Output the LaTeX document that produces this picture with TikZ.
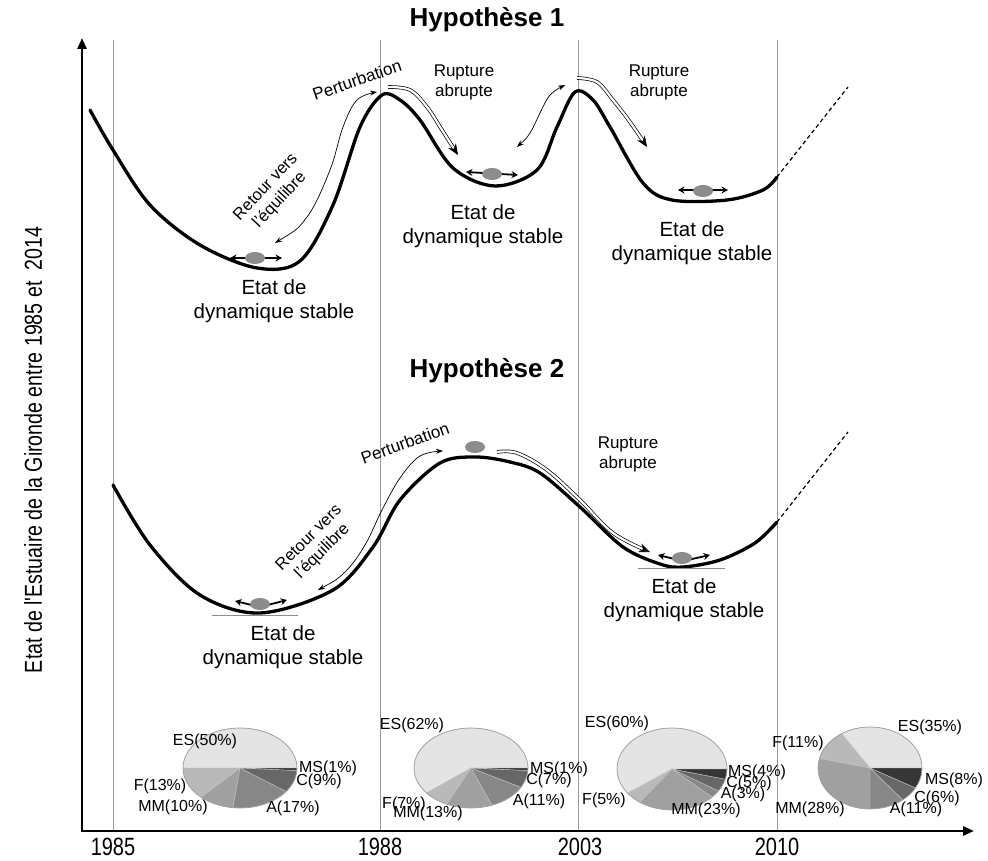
\documentclass[tikz,border=0pt]{standalone}
\usepackage{fontspec}
\setmainfont{Liberation Sans}
\newfontfamily\narrowfont[FakeStretch=0.8]{Liberation Sans}
\usetikzlibrary{arrows.meta}
\definecolor{cES}{HTML}{E4E4E4}
\definecolor{cF}{HTML}{B9B9B9}
\definecolor{cMM}{HTML}{A0A0A0}
\definecolor{cA}{HTML}{878787}
\definecolor{cC}{HTML}{676767}
\definecolor{cMS}{HTML}{363636}
\definecolor{ballc}{HTML}{8C8C8C}
\begin{document}
\begin{tikzpicture}[x=1pt,y=-1pt,
  curve/.style={line width=3.3pt,line cap=round,line join=round},
  vline/.style={line width=0.8pt,draw=black!40},
  axisline/.style={line width=2.8pt,-{Triangle[length=11pt,width=9pt]}},
  thinarrow/.style={line width=0.7pt,{Stealth[length=7pt,width=5pt]}-{Stealth[length=7pt,width=5pt]}},
  rupt/.style={line width=0.7pt,double=white,double distance=2.2pt,-{Stealth[length=11pt,width=9pt]}},
  ballarrow/.style={line width=1.8pt,line join=round,{Stealth[length=6.5pt,width=7pt]}-{Stealth[length=6.5pt,width=7pt]}},
  tangent/.style={line width=1pt,draw=black!45},
  lab/.style={font=\fontsize{20.5}{24}\selectfont,align=center,inner sep=0pt},
  small/.style={font=\fontsize{17}{20}\selectfont,align=center,inner sep=0pt},
  retour/.style={font=\fontsize{16.5}{19}\selectfont,align=center,inner sep=0pt},
  pielab/.style={font=\fontsize{16}{18}\selectfont,inner sep=0pt},
  year/.style={font=\narrowfont\fontsize{25}{28}\selectfont,inner sep=0pt},
  title/.style={font=\bfseries\fontsize{26}{30}\selectfont,inner sep=0pt},
  pieslice/.style={draw=white!78!black,line width=0.4pt},
]
\useasboundingbox (0,0) rectangle (988,861);
\fill[white] (0,0) rectangle (988,861);

% vertical year lines
\coordinate (v1t) at (113,40); \coordinate (v1b) at (113,830);
\coordinate (v2t) at (380,40); \coordinate (v2b) at (380,830);
\coordinate (v3t) at (578,40); \coordinate (v3b) at (578,830);
\coordinate (v4t) at (777,40); \coordinate (v4b) at (777,830);
\draw[vline] (v1t) -- (v1b);
\draw[vline] (v2t) -- (v2b);
\draw[vline] (v3t) -- (v3b);
\draw[vline] (v4t) -- (v4b);

% axes
\coordinate (O) at (82,831);
\coordinate (ytip) at (82,38);
\coordinate (xtip) at (974,831);
\coordinate (O2) at (81,831);
\draw[axisline] (O) -- (ytip);
\draw[axisline] (O2) -- (xtip);

\node[year] (y1985) at (113,847) {1985};
\node[year] (y1988) at (380,847) {1988};
\node[year] (y2003) at (580,847) {2003};
\node[year] (y2010) at (777,847) {2010};
\node[font=\narrowfont\fontsize{24.5}{28}\selectfont,rotate=90,inner sep=0pt] (ylab) at (33,450) {Etat de l'Estuaire de la Gironde entre 1985 et\ \ 2014};

% titles
\node[title] (h1) at (487,20) {Hypothèse 1};
\node[title] (h2) at (487,371) {Hypothèse 2};

% ---------- Hypothese 1 ----------
\draw[curve] plot[smooth,tension=0.55] coordinates {(90,110) (113,150) (150,205) (200,245) (257,268) (300,261) (333,205) (360,127) (382,95) (400,100) (420,120) (453,168) (495,186) (537,170) (557,127) (575,92) (593,100) (610,127) (643,183) (672,200) (727,200) (763,190) (777,177)};
\draw[line width=1.2pt,dash pattern=on 4pt off 3pt] (777,177) -- (848,87);

\draw[thinarrow] plot[smooth,tension=0.6] coordinates {(275,243) (307,217) (330,170) (343,127) (357,100) (377,92)};
\draw[thinarrow] plot[smooth,tension=0.6] coordinates {(517,147) (530,133) (540,113) (550,95) (565,85)};
\draw[rupt] plot[smooth,tension=0.6] coordinates {(388,87) (410,90) (427,107) (442,130) (458,155)};
\draw[rupt] plot[smooth,tension=0.6] coordinates {(577,78) (597,82) (613,100) (630,122) (647,147)};

\draw[ballarrow] (230,258) -- (282,258);
\fill[ballc] (255,258) ellipse [x radius=10,y radius=6];
\draw[ballarrow] (466,172) -- (518,175);
\fill[ballc] (492,174) ellipse [x radius=10,y radius=6];
\draw[ballarrow] (678,190) -- (728,190);
\fill[ballc] (703,191) ellipse [x radius=10,y radius=6];

\node[small,rotate=19] (pert1) at (357,80) {Perturbation};
\node[retour,rotate=47] (ret1) at (273,194) {Retour vers\\l'équilibre};
\node[small] (rup1) at (464,82) {Rupture\\abrupte};
\node[small] (rup2) at (659,82) {Rupture\\abrupte};
\node[lab] (e1) at (274,301) {Etat de\\dynamique stable};
\node[lab] (e2) at (483,226) {Etat de\\dynamique stable};
\node[lab] (e3) at (692,243) {Etat de\\dynamique stable};

% ---------- Hypothese 2 ----------
\draw[curve] plot[smooth,tension=0.55] coordinates {(113,485) (150,545) (200,595) (260,613) (333,590) (373,547) (400,500) (440,463) (475,457) (510,462) (540,473) (580,507) (623,547) (660,564) (683,567) (720,560) (755,543) (777,522)};
\draw[line width=1.2pt,dash pattern=on 4pt off 3pt] (777,522) -- (848,432);
\draw[tangent] (212,615) -- (298,615);
\draw[tangent] (638,568) -- (725,568);

\draw[thinarrow] plot[smooth,tension=0.6] coordinates {(318,590) (345,572) (365,545) (382,510) (400,478) (420,456) (443,451)};
\draw[rupt] plot[smooth,tension=0.6] coordinates {(497,452) (517,453) (547,470) (580,500) (613,533) (650,552)};

\draw[ballarrow] (235,601) -- (260,607) -- (287,600);
\fill[ballc] (260,604) ellipse [x radius=10,y radius=6];
\draw[ballarrow] (658,555) -- (683,561) -- (710,555);
\fill[ballc] (682,558) ellipse [x radius=10,y radius=6];
\fill[ballc] (475,447) ellipse [x radius=10,y radius=6];

\node[small,rotate=20] (pert2) at (405,443) {Perturbation};
\node[retour,rotate=45] (ret2) at (316,545) {Retour vers\\l'équilibre};
\node[small] (rup3) at (628,454) {Rupture\\abrupte};
\node[lab] (e4) at (283,647) {Etat de\\dynamique stable};
\node[lab] (e5) at (684,600) {Etat de\\dynamique stable};

% ---------- Pies ----------
\begin{scope}[shift={(240,768)},yscale=-1]
  \foreach \a/\b/\c in {0/180/cES,180/226.8/cF,-133.2/-97.2/cMM,-97.2/-36/cA,-36/-3.6/cC,-3.6/0/cMS}
    \filldraw[fill=\c,pieslice] (0,0) -- (\a:57 and 40) arc[start angle=\a,end angle=\b,x radius=57,y radius=40] -- cycle;
  \draw[black!40,line width=0.6pt] (0,0) ellipse [x radius=57,y radius=40];
\end{scope}
\begin{scope}[shift={(471,768)},yscale=-1]
  \foreach \a/\b/\c in {0/218.5/cES,-141.5/-115.2/cF,-115.2/-68.4/cMM,-68.4/-28.8/cA,-28.8/-3.6/cC,-3.6/0/cMS}
    \filldraw[fill=\c,pieslice] (0,0) -- (\a:57 and 40) arc[start angle=\a,end angle=\b,x radius=57,y radius=40] -- cycle;
  \draw[black!40,line width=0.6pt] (0,0) ellipse [x radius=57,y radius=40];
\end{scope}
\begin{scope}[shift={(672,769)},yscale=-1]
  \foreach \a/\b/\c in {0/216/cES,-144/-126/cF,-126/-43.2/cMM,-43.2/-32.4/cA,-32.4/-14.4/cC,-14.4/0/cMS}
    \filldraw[fill=\c,pieslice] (0,0) -- (\a:55 and 41) arc[start angle=\a,end angle=\b,x radius=55,y radius=41] -- cycle;
  \draw[black!40,line width=0.6pt] (0,0) ellipse [x radius=55,y radius=41];
\end{scope}
\begin{scope}[shift={(870,768)},yscale=-1]
  \foreach \a/\b/\c in {0/123/cES,-237/-193.5/cF,-193.5/-90/cMM,-90/-51/cA,-51/-29/cC,-29/0/cMS}
    \filldraw[fill=\c,pieslice] (0,0) -- (\a:52 and 41) arc[start angle=\a,end angle=\b,x radius=52,y radius=41] -- cycle;
  \draw[black!40,line width=0.6pt] (0,0) ellipse [x radius=52,y radius=41];
\end{scope}

% pie labels
\node[pielab] (p1es) at (205,741) {ES(50\%)};
\node[pielab] (p1ms) at (328,768) {MS(1\%)};
\node[pielab] (p1c)  at (319,781) {C(9\%)};
\node[pielab] (p1f)  at (160,786) {F(13\%)};
\node[pielab] (p1mm) at (173,807) {MM(10\%)};
\node[pielab] (p1a)  at (293,808) {A(17\%)};

\node[pielab] (p2es) at (412,725) {ES(62\%)};
\node[pielab] (p2ms) at (559,769) {MS(1\%)};
\node[pielab] (p2c)  at (549,780) {C(7\%)};
\node[pielab] (p2a)  at (539,801) {A(11\%)};
\node[pielab] (p2f)  at (404,804) {F(7\%)};
\node[pielab] (p2mm) at (428,813) {MM(13\%)};

\node[pielab] (p3es) at (617,723) {ES(60\%)};
\node[pielab] (p3ms) at (757,772) {MS(4\%)};
\node[pielab] (p3c)  at (749,783) {C(5\%)};
\node[pielab] (p3a)  at (743,794) {A(3\%)};
\node[pielab] (p3f)  at (604,800) {F(5\%)};
\node[pielab] (p3mm) at (706,810) {MM(23\%)};

\node[pielab] (p4es) at (930,727) {ES(35\%)};
\node[pielab] (p4f)  at (798,743) {F(11\%)};
\node[pielab] (p4ms) at (954,780) {MS(8\%)};
\node[pielab] (p4c)  at (937,798) {C(6\%)};
\node[pielab] (p4a)  at (916,809) {A(11\%)};
\node[pielab] (p4mm) at (810,809) {MM(28\%)};
\end{tikzpicture}
\end{document}
